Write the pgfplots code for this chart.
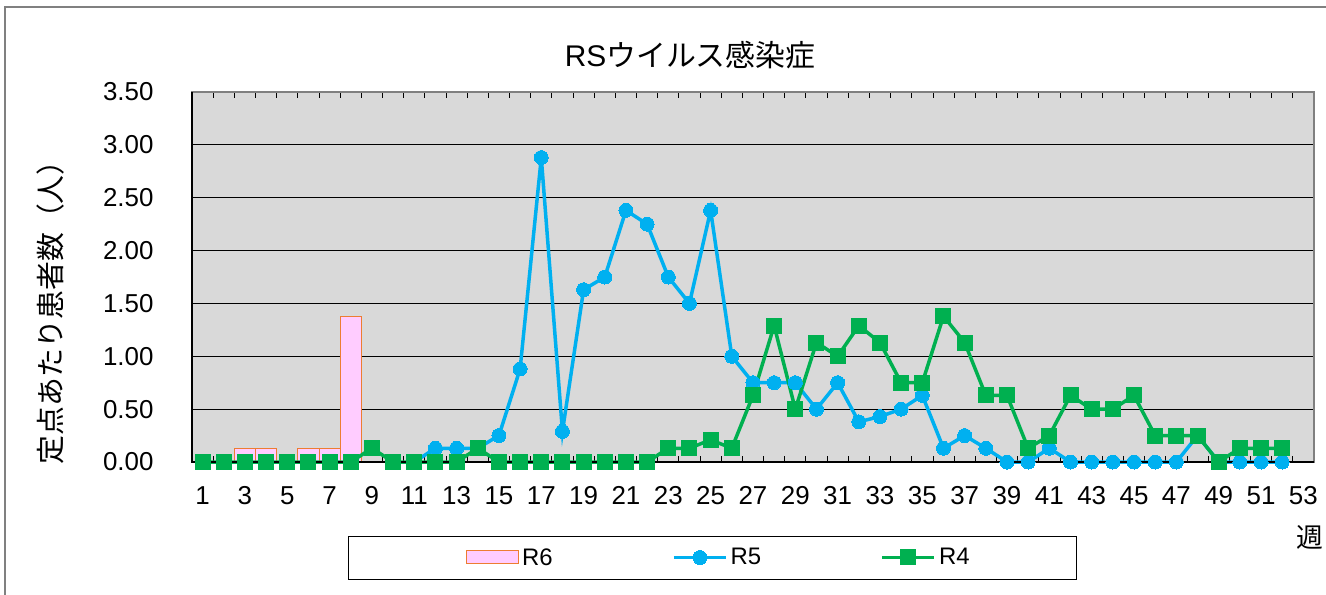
\documentclass[border=0pt]{standalone}
\usepackage{fontspec}
\setmainfont{Liberation Sans}
\newfontfamily\cjk{Noto Sans CJK JP}
\usepackage{pgfplots}
\pgfplotsset{compat=1.18}
\definecolor{bgray}{RGB}{217,217,217}
\definecolor{rpink}{RGB}{255,204,255}
\definecolor{rorange}{RGB}{237,125,49}
\definecolor{rblue}{RGB}{0,176,240}
\definecolor{rgreen}{RGB}{0,176,80}
\pgfplotsset{
  lineleg/.style={legend image code/.code={\draw[##1, mark repeat=2, mark phase=2] plot coordinates {(0bp,0bp) (26bp,0bp) (52bp,0bp)};}},
  barleg/.style={legend image code/.code={\draw[fill=rpink, draw=rorange, line width=1bp] (0bp,-6.5bp) rectangle (52bp,6.5bp);}},
}
\begin{document}
\begin{tikzpicture}
\useasboundingbox (-192bp,-133bp) rectangle (1134bp,462bp);
\draw[gray, line width=1.5bp] (-187bp,-133bp) -- (-187bp,455bp) -- (1134bp,455bp);
\begin{axis}[
  at={(0,0)}, anchor=south west,
  scale only axis, width=1122bp, height=370bp,
  xmin=0.5, xmax=53.5, ymin=0, ymax=3.5,
  clip=false,
  axis background/.style={fill=bgray},
  axis line style={draw=gray, line width=1.2bp},
  xtick={1,3,...,53},
  minor xtick={1.5,2.5,...,52.5},
  ytick={0,0.5,...,3.5},
  tick align=inside,
  major tick length=0bp,
  minor tick length=6bp,
  minor tick style={black, line width=0.8bp},
  ymajorgrids,
  major grid style={black, line width=0.9bp},
  /pgf/number format/assume math mode=true,
  y tick label style={/pgf/number format/fixed, /pgf/number format/fixed zerofill, /pgf/number format/precision=2, xshift=-35bp},
  tick label style={font=\fontsize{26}{28}\selectfont},
  x tick label style={yshift=-21bp},
  legend style={at={(axis description cs:0.2442,-0.2581)}, anchor=west,
    draw=none, fill=none, inner sep=0pt, font=\fontsize{24}{26}\selectfont,
    nodes={inner xsep=3bp, inner ysep=0bp}},
  legend columns=3,
  legend cell align=left,
]
\addplot[ybar, bar width=1, fill=rpink, draw=rorange, line width=1bp, barleg]
  coordinates {(3,0.13) (4,0.13) (6,0.13) (7,0.13) (8,1.38)};
\addlegendentry{\makebox[147bp][l]{R6}}
\addplot[rblue, line width=3.5bp, mark=*, mark size=7bp, mark options={fill=rblue, draw=rblue, line width=0bp}, lineleg]
  coordinates {
  (11,0)
  (12,0.13) (13,0.13) (14,0.13) (15,0.25) (16,0.88) (17,2.88) (18,0.29)
  (19,1.63) (20,1.75) (21,2.38) (22,2.25) (23,1.75) (24,1.50) (25,2.38)
  (26,1.00) (27,0.75) (28,0.75) (29,0.75) (30,0.50) (31,0.75) (32,0.38)
  (33,0.43) (34,0.50) (35,0.63) (36,0.13) (37,0.25) (38,0.13) (39,0)
  (40,0) (41,0.13) (42,0) (43,0) (44,0) (45,0) (46,0) (47,0) (48,0.25)
  (49,0) (50,0) (51,0) (52,0)};
\addlegendentry{\makebox[147bp][l]{R5}}
\addplot[rgreen, line width=3.5bp, mark=square*, mark size=7.5bp, mark options={fill=rgreen, draw=rgreen, line width=0bp}, lineleg]
  coordinates {
  (1,0) (2,0) (3,0) (4,0) (5,0) (6,0) (7,0) (8,0) (9,0.13) (10,0) (11,0)
  (12,0) (13,0) (14,0.13) (15,0) (16,0) (17,0) (18,0) (19,0) (20,0)
  (21,0) (22,0) (23,0.13) (24,0.13) (25,0.21) (26,0.13) (27,0.63)
  (28,1.29) (29,0.50) (30,1.13) (31,1.00) (32,1.29) (33,1.13) (34,0.75)
  (35,0.75) (36,1.38) (37,1.13) (38,0.63) (39,0.63) (40,0.13) (41,0.25)
  (42,0.63) (43,0.50) (44,0.50) (45,0.63) (46,0.25) (47,0.25) (48,0.25)
  (49,0) (50,0.13) (51,0.13) (52,0.13)};
\addlegendentry{\makebox[147bp][l]{R4}}
\draw[black, line width=1.5bp] (rel axis cs:0,1) -- (rel axis cs:0,0) -- (rel axis cs:1,0);
\node[font=\fontsize{30}{33}\selectfont, anchor=center] at (axis description cs:0.444,1.1) {RS{\cjk ウイルス感染症}};
\node[font=\fontsize{29}{32}\selectfont\cjk, rotate=90, anchor=center] at (axis description cs:-0.126,0.424) {定点あたり患者数（人）};
\node[font=\fontsize{27}{29}\selectfont\cjk, anchor=center] at (axis description cs:0.9964,-0.203) {週};
\end{axis}
\draw[black, line width=1bp] (156bp,-74bp) rectangle (884bp,-117bp);
\end{tikzpicture}
\end{document}
